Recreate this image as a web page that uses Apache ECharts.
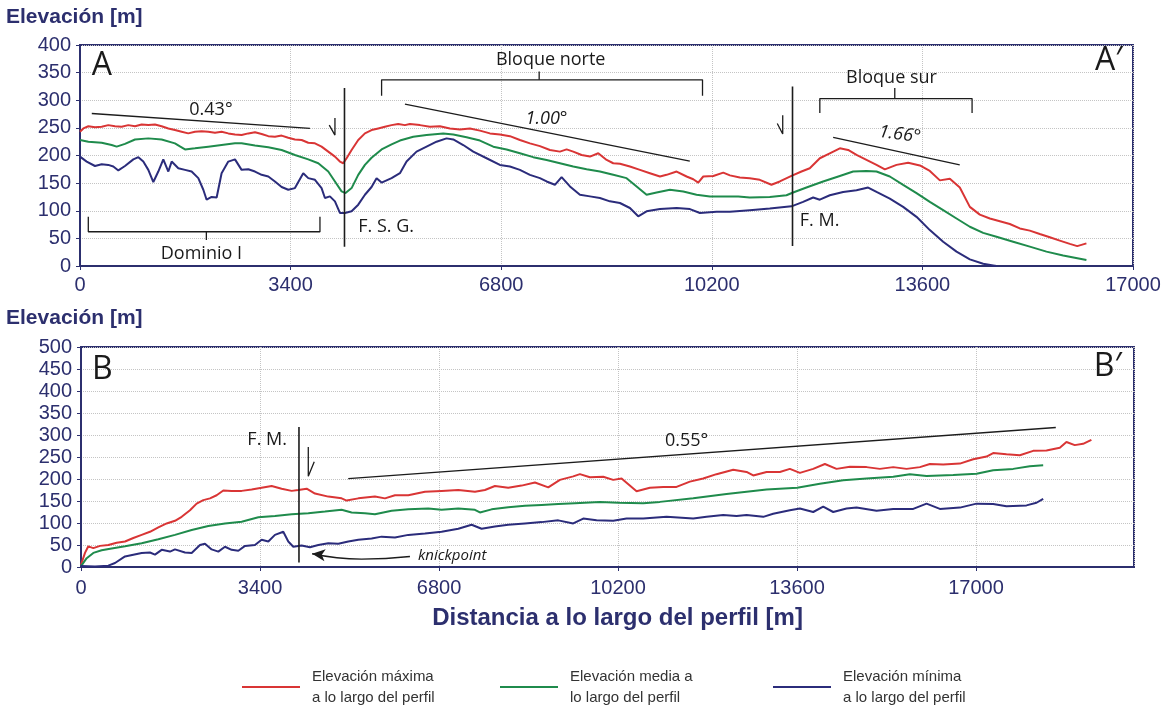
<!DOCTYPE html>
<html>
<head>
<meta charset="utf-8">
<title>Perfiles topográficos A–A′ y B–B′</title>
<script src="https://cdn.jsdelivr.net/npm/echarts@6/dist/echarts.min.js"></script>
<style>
  html, body { margin: 0; padding: 0; background: #ffffff; }
  #chart { width: 1165px; height: 712px; }
</style>
</head>
<body>
<div id="chart"></div>
<script>
// ---------- Tick labels ----------
const topXTicks = [0, 3400, 6800, 10200, 13600, 17000];
const topYTicks = [0, 50, 100, 150, 200, 250, 300, 350, 400];
const botXTicks = [0, 3400, 6800, 10200, 13600, 17000];
const botXMax = 20000;
const botYTicks = [0, 50, 100, 150, 200, 250, 300, 350, 400, 450, 500];

// ---------- Series names ----------
const seriesNames = [
  'Elevación máxima a lo largo del perfil',
  'Elevación media a lo largo del perfil',
  'Elevación mínima a lo largo del perfil'
];
const legendLabels = [
  'Elevación máxima\na lo largo del perfil',
  'Elevación media a\nlo largo del perfil',
  'Elevación mínima\na lo largo del perfil'
];

// ---------- Perfil A–A′ (distance m, elevation m) ----------
const topMaxDist = [0,54,135,242,350,457,565,672,780,888,995,1103,1210,1318,1426,1533,1641,1748,1856,1964,2071,2179,2286,2394,2502,2609,2717,2825,2932,3040,3147,3255,3362,3470,3578,3685,3793,3900,4008,4116,4196,4250,4304,4385,4492,4600,4707,4815,4922,5030,5137,5245,5326,5488,5649,5810,5972,6134,6295,6457,6618,6780,6941,7102,7264,7425,7587,7748,7856,7963,8098,8233,8367,8502,8609,8717,8878,9040,9201,9363,9470,9632,9793,9901,9981,10062,10224,10385,10493,10652,10813,10975,11163,11298,11486,11648,11782,11944,12105,12267,12401,12536,12697,12859,12994,13182,13370,13559,13720,13882,14043,14204,14366,14527,14689,14850,15011,15173,15334,15495,15657,15818,15980,16100,16248];
const topMaxElev = [243,249,253,251,252,255,253,252,255,253,256,255,256,253,249,246,243,240,243,244,243,241,243,240,238,237,240,242,239,235,234,236,232,229,228,223,222,216,207,198,189,186,195,210,228,240,246,249,252,255,257,255,257,255,252,253,249,247,249,245,240,238,235,228,222,217,210,207,211,207,201,198,204,192,186,185,180,174,168,162,165,171,162,157,151,162,163,169,164,160,159,156,147,153,163,171,177,195,204,213,210,201,192,183,175,183,187,182,172,155,158,142,107,93,86,81,76,68,64,58,52,46,40,36,41];

const topMeanDist = [0,135,350,511,592,726,888,1103,1318,1533,1620,1695,1856,2071,2286,2502,2609,2825,3040,3255,3470,3685,3847,4008,4116,4223,4287,4385,4492,4600,4707,4869,5030,5165,5380,5595,5864,6026,6241,6457,6672,6887,7102,7317,7533,7748,7963,8179,8394,8609,8824,8986,9147,9309,9524,9739,9954,10170,10385,10627,10813,11136,11405,11513,11728,11997,12267,12482,12697,12859,13074,13289,13505,13720,13935,14151,14366,14581,14796,15065,15334,15603,15872,16060,16248];
const topMeanElev = [228,225,223,219,216,221,229,231,229,222,216,211,213,216,219,222,222,218,215,210,201,193,186,171,153,135,132,141,165,183,196,211,220,227,234,237,240,238,233,227,216,211,204,197,192,186,180,175,171,165,159,144,129,133,138,135,129,126,126,126,124,125,128,133,142,153,163,171,172,171,162,147,132,116,101,86,71,60,53,44,35,26,19,15,11];

const topMinDist = [0,108,242,350,457,538,619,726,861,942,1022,1103,1184,1264,1345,1426,1480,1587,1695,1802,1910,1991,2044,2125,2206,2286,2394,2502,2609,2717,2825,2932,3040,3147,3255,3362,3470,3604,3685,3793,3900,3954,4035,4116,4196,4277,4385,4492,4600,4707,4788,4869,5030,5165,5272,5433,5595,5756,5917,6026,6187,6349,6564,6779,6941,7102,7264,7425,7533,7667,7775,7910,8071,8233,8394,8555,8717,8878,9012,9147,9363,9632,9847,10008,10277,10491,10813,11136,11486,11674,11836,11944,12105,12321,12536,12724,12859,13074,13289,13505,13720,13935,14151,14366,14581,14743,14796];
const topMinElev = [198,189,181,184,183,180,173,181,193,197,189,174,152,171,193,171,189,177,174,171,159,138,120,125,124,168,189,193,174,175,171,165,162,153,143,138,141,168,159,156,141,123,126,117,96,96,99,111,129,143,159,151,159,168,189,207,216,225,231,229,219,207,195,183,180,174,165,159,153,147,161,144,129,126,123,117,114,105,90,99,103,105,103,96,98,98,101,104,108,116,124,120,128,134,137,142,134,122,107,89,65,44,26,12,4,1,0];

// ---------- Perfil B–B′ (distance m, elevation m) ----------
const botMaxDist = [0,76,139,234,361,519,678,836,994,1152,1310,1469,1627,1785,1912,2070,2196,2323,2450,2576,2703,2861,3051,3241,3431,3621,3811,4001,4128,4286,4444,4697,4950,5045,5267,5583,5773,5963,6216,6533,6849,7166,7482,7672,7862,8115,8368,8622,8875,9096,9349,9476,9666,9919,10109,10267,10552,10805,11058,11311,11565,11818,12071,12388,12641,12768,13021,13274,13464,13654,13907,14129,14350,14604,14920,15173,15427,15680,15933,16123,16376,16693,16946,17199,17325,17578,17832,18085,18338,18591,18717,18875,19033,19191];
const botMaxElev = [5,32,47,43,48,50,55,58,66,73,80,90,99,105,114,129,144,152,156,163,174,173,173,176,180,184,178,173,175,178,167,160,156,151,156,160,156,163,163,171,173,175,171,175,184,180,185,192,181,198,206,211,204,205,198,201,172,180,182,182,194,201,211,221,216,208,216,216,223,214,223,234,223,228,227,223,227,223,227,234,233,235,245,251,259,256,254,264,265,271,284,277,280,289];

const botMeanDist = [0,108,234,392,582,836,1152,1469,1785,2102,2418,2735,3051,3368,3684,4001,4317,4634,4950,5140,5393,5583,5900,6216,6596,6849,7166,7482,7577,7799,8115,8432,8748,9065,9381,9856,10204,10679,10995,11628,12261,12641,13021,13603,14034,14477,14920,15427,15743,16060,16566,17009,17325,17705,18021,18275];
const botMeanElev = [2,20,32,38,42,47,54,63,73,84,93,99,103,113,116,120,122,126,130,124,122,120,128,131,133,130,133,130,124,131,136,139,141,143,145,148,146,145,148,156,166,171,176,180,189,197,201,205,211,207,209,212,220,223,229,231];

const botMinDist = [0,266,519,646,836,994,1152,1310,1405,1532,1690,1785,1975,2102,2260,2355,2481,2608,2735,2861,2988,3115,3304,3431,3558,3684,3842,3937,4032,4190,4349,4507,4697,4887,5077,5267,5520,5710,5963,6216,6533,6849,7166,7419,7609,7862,8115,8432,8748,9065,9349,9539,9792,10109,10362,10679,11122,11628,11881,12197,12451,12641,12958,13147,13464,13654,13907,14097,14287,14540,14730,15110,15427,15807,16060,16313,16693,17009,17325,17578,17958,18148,18275];
const botMinElev = [2,1,3,9,24,28,32,33,28,39,35,40,33,32,50,53,40,35,46,39,37,48,50,62,58,73,80,58,46,49,45,50,54,53,58,62,65,69,67,73,76,80,87,96,87,92,96,99,102,106,99,110,106,105,110,110,114,110,114,118,116,118,114,121,129,133,125,137,125,133,135,128,132,132,144,132,135,144,143,138,140,146,155];

// ---------- Styling ----------
const NAVY = '#2c2f6e';
const LINE_COLORS = ['#d93535', '#1f8b4c', '#2b2c7b'];
const INK = '#1c1c1c';
const SANS = '"Liberation Sans", Arial, sans-serif';
const NOTE_FONT = '"Open Sans", "Noto Sans", sans-serif';

const zip = (xs, ys) => xs.map((x, i) => [x, ys[i]]);
const step = t => t[1] - t[0];

function profile(gi, idx, xs, ys) {
  return {
    name: seriesNames[idx], type: 'line', xAxisIndex: gi, yAxisIndex: gi,
    data: zip(xs, ys), symbol: 'none', z: 3, silent: true,
    lineStyle: { width: 2, color: LINE_COLORS[idx] },
    itemStyle: { color: LINE_COLORS[idx] }
  };
}

// thin black strokes: slope lines, brackets, faults, half arrows
function stroke(gi, pts, width) {
  return {
    type: 'line', xAxisIndex: gi, yAxisIndex: gi, data: pts, symbol: 'none',
    silent: true, z: 5, lineStyle: { color: INK, width: width || 1.3 }
  };
}

// text placed at a data coordinate
function note(gi, x, y, text, o) {
  o = o || {};
  return {
    type: 'scatter', xAxisIndex: gi, yAxisIndex: gi, silent: true, z: 6,
    symbolSize: 1, itemStyle: { color: 'rgba(0,0,0,0)', opacity: 1 },
    data: [[x, y]],
    label: {
      show: true, formatter: text, position: 'inside',
      align: o.align || 'center', verticalAlign: 'middle',
      fontFamily: NOTE_FONT, fontSize: o.size || 18,
      fontStyle: o.italic ? 'italic' : 'normal',
      color: o.color || '#1a1a1a', rotate: o.rotate || 0, opacity: 1
    }
  };
}

function valueAxis(gi, ticks, max, extra) {
  return Object.assign({
    type: 'value', gridIndex: gi,
    min: ticks[0], max: max, interval: step(ticks),
    axisLine: { show: true, onZero: false, lineStyle: { color: NAVY, width: 2 } },
    axisTick: { show: true, length: 4, lineStyle: { color: NAVY, width: 1 } },
    axisLabel: { color: NAVY, fontFamily: SANS, fontSize: 20, margin: 9, formatter: v => String(v) },
    splitLine: { show: true, lineStyle: { color: '#c4c4c4', type: 'dotted', width: 1 } }
  }, extra || {});
}

const gridStyle = { show: true, borderColor: NAVY, borderWidth: 2, backgroundColor: 'transparent' };
const titleStyle = { fontFamily: SANS, fontWeight: 'bold', fontSize: 21, color: NAVY };

const option = {
  animation: false,
  backgroundColor: '#ffffff',
  title: [
    { text: 'Elevación [m]', left: 6, top: 7, padding: 0, textStyle: titleStyle },
    { text: 'Elevación [m]', left: 6, top: 308, padding: 0, textStyle: titleStyle }
  ],
  grid: [
    Object.assign({ left: 80, right: 32, top: 45, height: 221 }, gridStyle),
    Object.assign({ left: 81, right: 31, top: 347, height: 220 }, gridStyle)
  ],
  xAxis: [
    valueAxis(0, topXTicks, topXTicks[topXTicks.length - 1]),
    valueAxis(1, botXTicks, botXMax, {
      name: 'Distancia a lo largo del perfil [m]',
      nameLocation: 'middle', nameGap: 39,
      nameTextStyle: { fontFamily: SANS, fontWeight: 'bold', fontSize: 24, color: NAVY, padding: [0, 0, 0, 20] },
      axisLabel: { color: NAVY, fontFamily: SANS, fontSize: 20, margin: 11, showMaxLabel: false, formatter: v => String(v) }
    })
  ],
  yAxis: [
    valueAxis(0, topYTicks, topYTicks[topYTicks.length - 1]),
    valueAxis(1, botYTicks, botYTicks[botYTicks.length - 1])
  ],
  legend: legendLabels.map((lab, i) => ({
    data: [seriesNames[i]],
    left: [242, 500, 773][i], top: 666, padding: 0,
    icon: 'rect', itemWidth: 58, itemHeight: 2, itemGap: 0,
    selectedMode: false,
    formatter: () => lab,
    textStyle: {
      fontFamily: SANS, fontSize: 15, lineHeight: 21, color: '#333333', padding: [0, 0, 0, 7]
    }
  })),
  series: [
    // Perfil A–A′
    profile(0, 0, topMaxDist, topMaxElev),
    profile(0, 1, topMeanDist, topMeanElev),
    profile(0, 2, topMinDist, topMinElev),
    // Perfil B–B′
    profile(1, 0, botMaxDist, botMaxElev),
    profile(1, 1, botMeanDist, botMeanElev),
    profile(1, 2, botMinDist, botMinElev),

    // --- annotations, perfil A–A′ ---
    stroke(0, [[190, 276], [3712, 249]]),                                   // 0.43°
    stroke(0, [[5246, 293], [9845, 190]]),                                  // 1.00°
    stroke(0, [[12159, 233], [14203, 183]]),                                // 1.66°
    stroke(0, [[134, 89], [134, 62], [3874, 62], [3874, 89]]),              // Dominio I
    stroke(0, [[2040, 62], [2040, 47]]),
    stroke(0, [[4869, 308], [4869, 337], [10050, 337], [10050, 308]]),      // Bloque norte
    stroke(0, [[7413, 337], [7413, 352]]),
    stroke(0, [[11944, 277], [11944, 303], [14402, 303], [14402, 277]]),    // Bloque sur
    stroke(0, [[13154, 303], [13154, 322]]),
    stroke(0, [[4270, 322], [4270, 35]], 1.6),                              // F. S. G.
    stroke(0, [[11503, 325], [11503, 36]], 1.6),                            // F. M.
    stroke(0, [[4024, 255], [4116, 237], [4116, 268]]),                     // hanging-wall arrows
    stroke(0, [[11257, 258], [11345, 239], [11345, 273]]),
    note(0, 190, 362, 'A', { align: 'left', size: 32 }),
    note(0, 16834, 371, 'A′', { align: 'right', size: 32 }),
    note(0, 2114, 283, '0.43°'),
    note(0, 7532, 266, '1.00°', { italic: true }),
    note(0, 13235, 238, '1.66°', { italic: true, rotate: -8 }),
    note(0, 7599, 373, 'Bloque norte'),
    note(0, 13101, 341, 'Bloque sur'),
    note(0, 1960, 22, 'Dominio I'),
    note(0, 4492, 71, 'F. S. G.', { align: 'left' }),
    note(0, 11621, 81, 'F. M.', { align: 'left' }),

    // --- annotations, perfil B–B′ ---
    stroke(1, [[5076, 201], [18515, 317]]),                                 // 0.55°
    stroke(1, [[4140, 318], [4140, 10]], 1.6),                              // F. M.
    stroke(1, [[4430, 239], [4317, 206], [4317, 273]]),
    {
      type: 'line', xAxisIndex: 1, yAxisIndex: 1, silent: true, z: 5,
      smooth: true, symbol: 'none', showSymbol: true,
      lineStyle: { color: INK, width: 1.4 }, itemStyle: { color: INK, opacity: 1 },
      data: [[6248, 24], [5330, 18], { value: [4390, 30], symbol: 'arrow', symbolSize: [9, 13], symbolRotate: 84 }]
    },
    note(1, 209, 449, 'B', { align: 'left', size: 32 }),
    note(1, 19769, 454, 'B′', { align: 'right', size: 32 }),
    note(1, 3912, 288, 'F. M.', { align: 'right' }),
    note(1, 11502, 287, '0.55°'),
    note(1, 6400, 26, 'knickpoint', { align: 'left', italic: true, size: 15 })
  ]
};

const chart = echarts.init(document.getElementById('chart'), null, { renderer: 'canvas' });
chart.setOption(option);
</script>
</body>
</html>
